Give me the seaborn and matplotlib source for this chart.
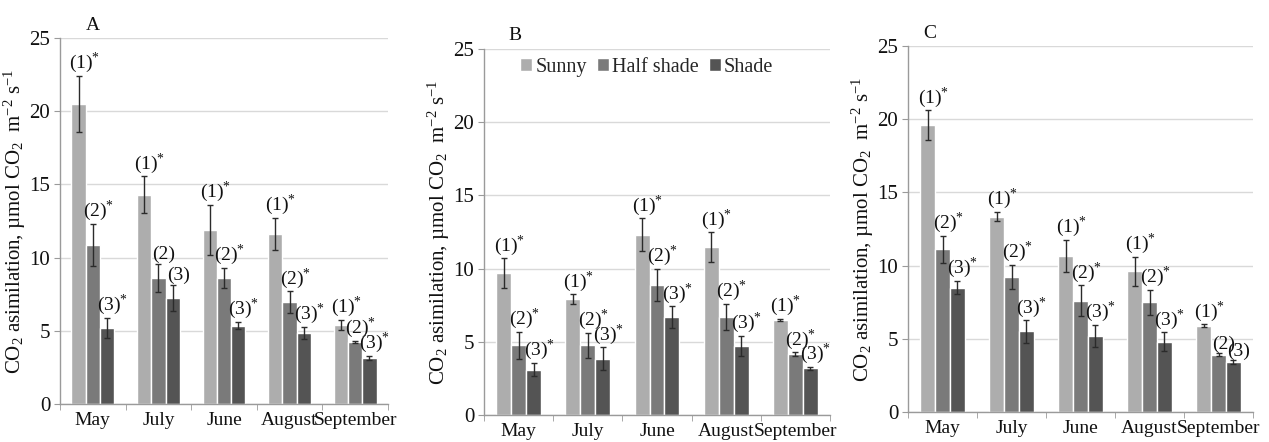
import numpy as np
import pandas as pd
import matplotlib
matplotlib.use("Agg")
import matplotlib.pyplot as plt
import seaborn as sns

# ---------------- data ----------------
months = ["May", "July", "June", "August", "September"]
conditions = ["Sunny", "Half shade", "Shade"]
panels = ["A", "B", "C"]

a_sunny = [20.5, 14.3, 11.9, 11.6, 5.4]
a_half = [10.85, 8.6, 8.6, 6.95, 4.25]
a_shade = [5.2, 7.25, 5.35, 4.85, 3.15]
a_sunny_err = [1.9, 1.25, 1.7, 1.1, 0.35]
a_half_err = [1.45, 0.95, 0.7, 0.75, 0.05]
a_shade_err = [0.7, 0.9, 0.25, 0.4, 0.12]
a_sunny_lab = ["(1)*", "(1)*", "(1)*", "(1)*", "(1)*"]
a_half_lab = ["(2)*", "(2)", "(2)*", "(2)*", "(2)*"]
a_shade_lab = ["(3)*", "(3)", "(3)*", "(3)*", "(3)*"]

b_sunny = [9.7, 7.9, 12.3, 11.45, 6.5]
b_half = [4.75, 4.75, 8.9, 6.7, 4.15]
b_shade = [3.1, 3.85, 6.7, 4.7, 3.2]
b_sunny_err = [1.0, 0.35, 1.13, 1.02, 0.08]
b_half_err = [0.95, 0.85, 1.08, 0.88, 0.12]
b_shade_err = [0.45, 0.78, 0.73, 0.7, 0.1]
b_sunny_lab = ["(1)*", "(1)*", "(1)*", "(1)*", "(1)*"]
b_half_lab = ["(2)*", "(2)*", "(2)*", "(2)*", "(2)*"]
b_shade_lab = ["(3)*", "(3)*", "(3)*", "(3)*", "(3)*"]

c_sunny = [19.6, 13.35, 10.65, 9.6, 5.9]
c_half = [11.1, 9.2, 7.6, 7.5, 3.9]
c_shade = [8.5, 5.5, 5.2, 4.8, 3.4]
c_sunny_err = [1.0, 0.3, 1.12, 1.0, 0.08]
c_half_err = [0.92, 0.83, 1.05, 0.85, 0.1]
c_shade_err = [0.47, 0.77, 0.73, 0.65, 0.12]
c_sunny_lab = ["(1)*", "(1)*", "(1)*", "(1)*", "(1)*"]
c_half_lab = ["(2)*", "(2)*", "(2)*", "(2)*", "(2)"]
c_shade_lab = ["(3)*", "(3)*", "(3)*", "(3)*", "(3)"]

ylabel = r"CO$_2$ asimilation, µmol CO$_2$  m$^{-2}$ s$^{-1}$"
colors = ["#adadad", "#7a7a7a", "#545454"]

panel_data = {
    "A": ([a_sunny, a_half, a_shade], [a_sunny_err, a_half_err, a_shade_err],
          [a_sunny_lab, a_half_lab, a_shade_lab]),
    "B": ([b_sunny, b_half, b_shade], [b_sunny_err, b_half_err, b_shade_err],
          [b_sunny_lab, b_half_lab, b_shade_lab]),
    "C": ([c_sunny, c_half, c_shade], [c_sunny_err, c_half_err, c_shade_err],
          [c_sunny_lab, c_half_lab, c_shade_lab]),
}

# ---------------- style ----------------
sns.set_style("white")
plt.rcParams["font.family"] = ["Liberation Serif", "DejaVu Serif"]
plt.rcParams["mathtext.fontset"] = "custom"
plt.rcParams["mathtext.rm"] = "Liberation Serif"
plt.rcParams["mathtext.it"] = "Liberation Serif:italic"
plt.rcParams["mathtext.bf"] = "Liberation Serif:bold"

fig = plt.figure(figsize=(12.69, 4.42), dpi=100)

W, H = 1269.0, 442.0
boxes = {  # left, top, right, bottom in pixels
    "A": (60, 38, 388, 404),
    "B": (484, 49, 830, 415),
    "C": (908, 46, 1253, 412),
}
title_dx = {"A": 33, "B": 31, "C": 22}


def fmt(lab):
    if lab.endswith("*"):
        return lab[:-1] + r"$^{*}$"
    return lab


for name in panels:
    l, t, r, b = boxes[name]
    ax = fig.add_axes([l / W, 1 - b / H, (r - l) / W, (b - t) / H])
    vals, errs, labs = panel_data[name]
    rows = []
    for ci, cond in enumerate(conditions):
        for mi, m in enumerate(months):
            rows.append({"month": m, "cond": cond, "value": vals[ci][mi],
                         "err": errs[ci][mi], "lab": labs[ci][mi]})
    df = pd.DataFrame(rows)
    sns.barplot(data=df, x="month", y="value", hue="cond", order=months,
                hue_order=conditions, palette=colors, width=0.65,
                errorbar=None, ax=ax, saturation=1, legend=(name == "B"))

    bar_conts = list(ax.containers)
    for ci, cont in enumerate(bar_conts):
        for mi, bar in enumerate(cont.patches):
            xc = bar.get_x() + bar.get_width() / 2
            h = bar.get_height()
            e = errs[ci][mi]
            ax.errorbar(xc, h, yerr=e, fmt="none", ecolor="#2b2b2b",
                        elinewidth=1, capsize=2.5, capthick=1)
            ax.annotate(fmt(labs[ci][mi]), (xc, h + e), xytext=(4, 0.5),
                        textcoords="offset points", ha="center", va="bottom",
                        fontsize=14, color="#111111", annotation_clip=False)

    ax.set_ylim(0, 25)
    ax.set_xlim(-0.5, 4.5)
    ax.set_yticks([0, 5, 10, 15, 20, 25])
    ax.yaxis.grid(True, color="#d9d9d9", linewidth=1)
    ax.set_axisbelow(True)
    for s in ["top", "right"]:
        ax.spines[s].set_visible(False)
    for s in ["left", "bottom"]:
        ax.spines[s].set_color("#9a9a9a")
        ax.spines[s].set_linewidth(1)
    ax.set_xticks(np.arange(len(months)))
    ax.set_xticklabels(months)
    ax.set_xticks(np.arange(-0.5, len(months), 1.0), minor=True)
    ax.tick_params(axis="x", which="major", length=0, labelsize=14, pad=6,
                   labelcolor="#111111")
    ax.tick_params(axis="x", which="minor", length=4, color="#9a9a9a",
                   direction="out", bottom=True)
    ax.tick_params(axis="y", length=4, color="#9a9a9a", labelsize=15,
                   labelcolor="#111111", pad=3, left=True)
    ax.set_xlabel("")
    ax.set_ylabel(ylabel, fontsize=15, color="#111111", labelpad=1)
    ax.text(title_dx[name] / (r - l), 1.0 + 13 / (b - t), name,
            transform=ax.transAxes, fontsize=14, ha="center", va="center",
            color="#111111")

    if name == "B":
        leg = ax.legend(loc="upper center", bbox_to_anchor=(0.47, 1.025),
                        ncol=3, frameon=False, fontsize=14.5,
                        handlelength=0.6, handleheight=0.6,
                        handletextpad=0.15, columnspacing=0.5)

fig.savefig("out.png", dpi=100)
